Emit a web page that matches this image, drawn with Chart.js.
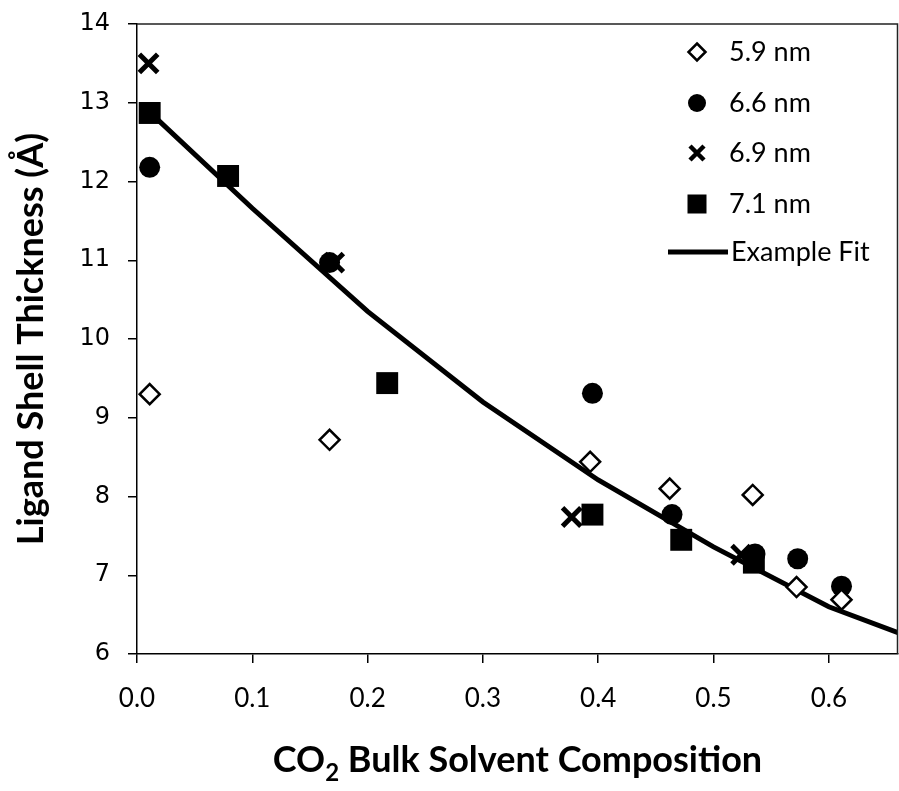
<!DOCTYPE html>
<html>
<head>
<meta charset="utf-8">
<script src="https://cdn.jsdelivr.net/npm/chart.js@4.4.0/dist/chart.umd.min.js"></script>
<style>
  html, body { margin: 0; padding: 0; background: #fff; overflow: hidden; }
  #wrap { width: 899px; height: 791px; position: relative; }
  #chart { display: block; }
</style>
</head>
<body>
<div id="wrap"><canvas id="chart"></canvas></div>
<script>
// values
const xTicks = [0, 0.1, 0.2, 0.3, 0.4, 0.5, 0.6];
const yTicks = [6, 7, 8, 9, 10, 11, 12, 13, 14];

const x59 = [0.011, 0.167, 0.393, 0.462, 0.534, 0.572, 0.611];
const y59 = [9.30, 8.72, 8.44, 8.10, 8.02, 6.85, 6.69];

const x66 = [0.011, 0.167, 0.395, 0.464, 0.536, 0.573, 0.611];
const y66 = [12.18, 10.97, 9.31, 7.77, 7.27, 7.21, 6.86];

const x69 = [0.010, 0.171, 0.377, 0.524];
const y69 = [13.50, 10.97, 7.74, 7.26];

const x71 = [0.011, 0.079, 0.217, 0.395, 0.472, 0.535];
const y71 = [12.87, 12.07, 9.44, 7.77, 7.45, 7.16];

const fitX = [0.011, 0.1, 0.2, 0.3, 0.4, 0.5, 0.6, 0.66];
const fitY = [12.88, 11.66, 10.35, 9.20, 8.21, 7.36, 6.60, 6.27];

const seriesNames = ['5.9 nm', '6.6 nm', '6.9 nm', '7.1 nm', 'Example Fit'];

function pairs(xs, ys) {
    return xs.map((x, i) => ({ x: x, y: ys[i] }));
}

function drawMarker(ctx, style, x, y, r) {
    ctx.save();
    ctx.beginPath();
    if (style === 'rectRot') {
        ctx.moveTo(x, y - r); ctx.lineTo(x + r, y); ctx.lineTo(x, y + r); ctx.lineTo(x - r, y); ctx.closePath();
        ctx.fillStyle = '#fff'; ctx.fill();
        ctx.lineWidth = 2.5; ctx.strokeStyle = '#000'; ctx.stroke();
    } else if (style === 'circle') {
        ctx.arc(x, y, r, 0, Math.PI * 2); ctx.fillStyle = '#000'; ctx.fill();
    } else if (style === 'crossRot') {
        ctx.moveTo(x - r, y - r); ctx.lineTo(x + r, y + r);
        ctx.moveTo(x + r, y - r); ctx.lineTo(x - r, y + r);
        ctx.lineWidth = 4.5; ctx.strokeStyle = '#000'; ctx.stroke();
    } else {
        ctx.fillStyle = '#000'; ctx.fillRect(x - r, y - r, 2 * r, 2 * r);
    }
    ctx.restore();
}

// legend drawn inside the plot, top right
const legendPlugin = {
    id: 'insideLegend',
    afterDraw(chart) {
        const ctx = chart.ctx;
        const rows = [52, 103, 153, 204, 252];
        const mx = 697;
        ctx.save();
        ctx.font = '27px Lato';
        ctx.fillStyle = '#000';
        ctx.textBaseline = 'middle';
        chart.data.datasets.forEach((ds, i) => {
            const y = rows[i];
            if (ds.showLine) {
                ctx.strokeStyle = '#000';
                ctx.lineWidth = 5;
                ctx.beginPath();
                ctx.moveTo(668, y);
                ctx.lineTo(728, y);
                ctx.stroke();
                ctx.fillText(ds.label, 731, y);
            } else {
                drawMarker(ctx, ds.pointStyle, mx, y, ds.legendRadius);
                ctx.fillStyle = '#000';
                ctx.fillText(ds.label, 729, y);
            }
        });
        ctx.restore();
    }
};

// frame on top and right of plot, plus x title with subscript
const framePlugin = {
    id: 'frameAndTitle',
    afterDraw(chart) {
        const a = chart.chartArea;
        const ctx = chart.ctx;
        ctx.save();
        ctx.strokeStyle = '#222';
        ctx.lineWidth = 1.5;
        ctx.beginPath();
        ctx.moveTo(a.left, a.top);
        ctx.lineTo(a.right - 0.5, a.top);
        ctx.lineTo(a.right - 0.5, a.bottom);
        ctx.stroke();

        const big = 'bold 36px Lato';
        const small = 'bold 24px Lato';
        ctx.fillStyle = '#000';
        ctx.textBaseline = 'alphabetic';
        ctx.font = big;
        const w1 = ctx.measureText('CO').width;
        const w3 = ctx.measureText(' Bulk Solvent Composition').width;
        ctx.font = small;
        const w2 = ctx.measureText('2').width;
        const total = w1 + w2 + w3;
        const x = (a.left + a.right) / 2 - total / 2;
        const base = 772;
        ctx.font = big;
        ctx.fillText('CO', x, base);
        ctx.font = small;
        ctx.fillText('2', x + w1, base + 9);
        ctx.font = big;
        ctx.fillText(' Bulk Solvent Composition', x + w1 + w2, base);
        ctx.restore();
    }
};

const ctx = document.getElementById('chart').getContext('2d');
new Chart(ctx, {
    type: 'scatter',
    data: {
        datasets: [
            {
                label: seriesNames[0], data: pairs(x59, y59),
                pointStyle: 'rectRot', pointRadius: 10, pointBorderWidth: 2.5,
                pointBackgroundColor: '#fff', pointBorderColor: '#000',
                legendRadius: 8.5, order: 0
            },
            {
                label: seriesNames[1], data: pairs(x66, y66),
                pointStyle: 'circle', pointRadius: 10.5, pointBorderWidth: 0,
                pointBackgroundColor: '#000', pointBorderColor: '#000',
                legendRadius: 9, order: 1
            },
            {
                label: seriesNames[2], data: pairs(x69, y69),
                pointStyle: 'crossRot', pointRadius: 13, pointBorderWidth: 5,
                pointBackgroundColor: '#000', pointBorderColor: '#000',
                legendRadius: 7, order: 2
            },
            {
                label: seriesNames[3], data: pairs(x71, y71),
                pointStyle: 'rect', pointRadius: 15.5, pointBorderWidth: 0,
                pointBackgroundColor: '#000', pointBorderColor: '#000',
                legendRadius: 9.5, order: 3
            },
            {
                label: seriesNames[4], data: pairs(fitX, fitY),
                showLine: true, pointRadius: 0, borderWidth: 5,
                borderColor: '#000', backgroundColor: '#000',
                tension: 0, order: 4
            }
        ]
    },
    options: {
        responsive: true,
        maintainAspectRatio: false,
        animation: false,
        events: [],
        layout: { autoPadding: false, padding: { top: 24, right: 1, left: 0, bottom: 0 } },
        plugins: {
            legend: { display: false },
            tooltip: { enabled: false }
        },
        scales: {
            x: {
                type: 'linear',
                min: 0,
                max: 0.66,
                afterBuildTicks: (scale) => { scale.ticks = xTicks.map(v => ({ value: v })); },
                ticks: {
                    color: '#000',
                    font: { family: 'Lato', size: 26 },
                    padding: 20,
                    maxRotation: 0,
                    callback: (v) => Number(v).toFixed(1)
                },
                grid: { drawOnChartArea: false, drawTicks: true, tickLength: 9, color: '#000', lineWidth: 1.5 },
                border: { color: '#000', width: 1.5 },
                afterFit: (scale) => {
                    scale.height = 137;
                    scale.paddingLeft = 0;
                    scale.paddingRight = 0;
                }
            },
            y: {
                type: 'linear',
                min: 6,
                max: 14,
                afterBuildTicks: (scale) => { scale.ticks = yTicks.map(v => ({ value: v })); },
                ticks: {
                    color: '#000',
                    font: { family: 'DejaVu Sans', size: 24 },
                    padding: 18
                },
                grid: { drawOnChartArea: false, drawTicks: true, tickLength: 9, color: '#000', lineWidth: 1.5 },
                border: { color: '#000', width: 1.5 },
                title: {
                    display: true,
                    text: 'Ligand Shell Thickness (Å)',
                    color: '#000',
                    font: { family: 'Lato', size: 36, weight: 'bold' },
                    padding: { top: 10, bottom: 0 }
                },
                afterFit: (scale) => {
                    scale.width = 137;
                    scale.paddingTop = 0;
                    scale.paddingBottom = 0;
                }
            }
        }
    },
    plugins: [legendPlugin, framePlugin]
});
</script>
</body>
</html>
